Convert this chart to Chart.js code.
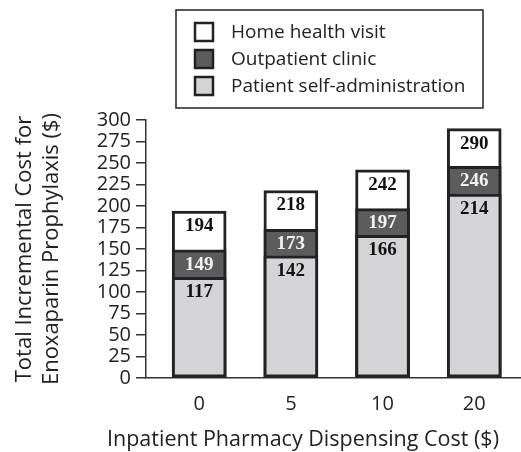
<!DOCTYPE html>
<html>
<head>
<meta charset="utf-8">
<script src="https://cdn.jsdelivr.net/npm/chart.js@4.4.1/dist/chart.umd.min.js"></script>
<style>
  html, body { margin: 0; padding: 0; background: #fff; overflow: hidden; }
  #wrap { width: 521px; height: 452px; position: relative; }
</style>
</head>
<body>
<div id="wrap"><canvas id="chart"></canvas></div>
<script>
// values as printed on the bars (cumulative totals)
const categories = ["0", "5", "10", "20"];
const selfAdmin = [117, 142, 166, 214];
const outpatient = [149, 173, 197, 246];
const homeVisit = [194, 218, 242, 290];
const yMax = 300;
const yStep = 25;
const xTitle = "Inpatient Pharmacy Dispensing Cost ($)";
const yTitle = ["Total Incremental Cost for", "Enoxaparin Prophylaxis ($)"];

const ink = "#222";
const sans = "'Open Sans'";

// labels printed near the top of each visible segment
const barLabels = {
  id: "barLabels",
  afterDatasetsDraw(chart) {
    const ctx = chart.ctx;
    ctx.save();
    ctx.font = "bold 19px 'Liberation Serif'";
    ctx.textAlign = "center";
    ctx.textBaseline = "middle";
    chart.data.datasets.forEach((ds, di) => {
      const meta = chart.getDatasetMeta(di);
      meta.data.forEach((el, i) => {
        ctx.fillStyle = ds.labelColor;
        ctx.fillText(String(ds.data[i].y), el.x, el.y + 15);
      });
    });
    ctx.restore();
  }
};

// boxed legend above the plot, one entry per line
const boxLegend = {
  id: "boxLegend",
  afterDraw(chart) {
    const ctx = chart.ctx;
    ctx.save();
    ctx.strokeStyle = ink;
    ctx.lineWidth = 1.5;
    ctx.strokeRect(176, 10, 307, 98);
    ctx.font = "19px " + sans;
    ctx.textBaseline = "middle";
    const items = chart.data.datasets.slice().reverse();
    items.forEach((ds, i) => {
      const cy = 32 + i * 27;
      ctx.fillStyle = ds.backgroundColor;
      ctx.fillRect(195, cy - 9, 18, 18);
      ctx.lineWidth = 2.5;
      ctx.strokeStyle = ink;
      ctx.strokeRect(195, cy - 9, 18, 18);
      ctx.fillStyle = ink;
      ctx.fillText(ds.label, 231, cy + 1);
    });
    ctx.restore();
  }
};

// x axis caption sits a little left of the plot centre in the original
const xCaption = {
  id: "xCaption",
  afterDraw(chart) {
    const ctx = chart.ctx;
    ctx.save();
    ctx.font = "21.5px " + sans;
    ctx.fillStyle = ink;
    ctx.textAlign = "center";
    ctx.textBaseline = "middle";
    ctx.fillText(xTitle, 303, 440);
    ctx.restore();
  }
};

const toPoints = (arr) => arr.map((v, i) => ({ x: i, y: v }));

new Chart(document.getElementById("chart"), {
  type: "bar",
  data: {
    datasets: [
      { label: "Patient self-administration", data: toPoints(selfAdmin), backgroundColor: "#d4d4d6", labelColor: "#111" },
      { label: "Outpatient clinic", data: toPoints(outpatient), backgroundColor: "#5c5c5c", labelColor: "#f2f2f2" },
      { label: "Home health visit", data: toPoints(homeVisit), backgroundColor: "#ffffff", labelColor: "#111" }
    ]
  },
  options: {
    responsive: true,
    maintainAspectRatio: false,
    animation: false,
    grouped: false,
    barThickness: 54,
    borderColor: ink,
    borderWidth: 3,
    borderSkipped: false,
    layout: { padding: { top: 120, left: 0, right: 0, bottom: 0 } },
    plugins: {
      legend: { display: false },
      tooltip: { enabled: false }
    },
    scales: {
      x: {
        type: "linear",
        offset: false,
        min: -0.58,
        max: 3.51,
        grid: { display: false },
        border: { color: "#333", width: 1.5 },
        ticks: {
          stepSize: 1,
          includeBounds: false,
          autoSkip: false,
          maxRotation: 0,
          color: ink,
          font: { family: sans, size: 20 },
          padding: 6,
          callback: (v) => (Number.isInteger(v) && v >= 0 && v < categories.length ? categories[v] : "")
        },
        afterFit: (s) => { s.height = 74; }
      },
      y: {
        min: 0,
        max: yMax,
        ticks: {
          stepSize: yStep,
          autoSkip: false,
          color: ink,
          font: { family: sans, size: 20, lineHeight: 1 },
          padding: 5
        },
        grid: { drawOnChartArea: false, tickLength: 10, color: "#333", lineWidth: 1.5 },
        border: { color: "#333", width: 1.5 },
        title: {
          display: true,
          text: yTitle,
          color: ink,
          font: { family: sans, size: 22, lineHeight: 1.2 },
          padding: { top: 12, bottom: 0 }
        },
        afterFit: (s) => { s.width = 146; }
      }
    }
  },
  plugins: [barLabels, boxLegend, xCaption]
});
</script>
</body>
</html>
